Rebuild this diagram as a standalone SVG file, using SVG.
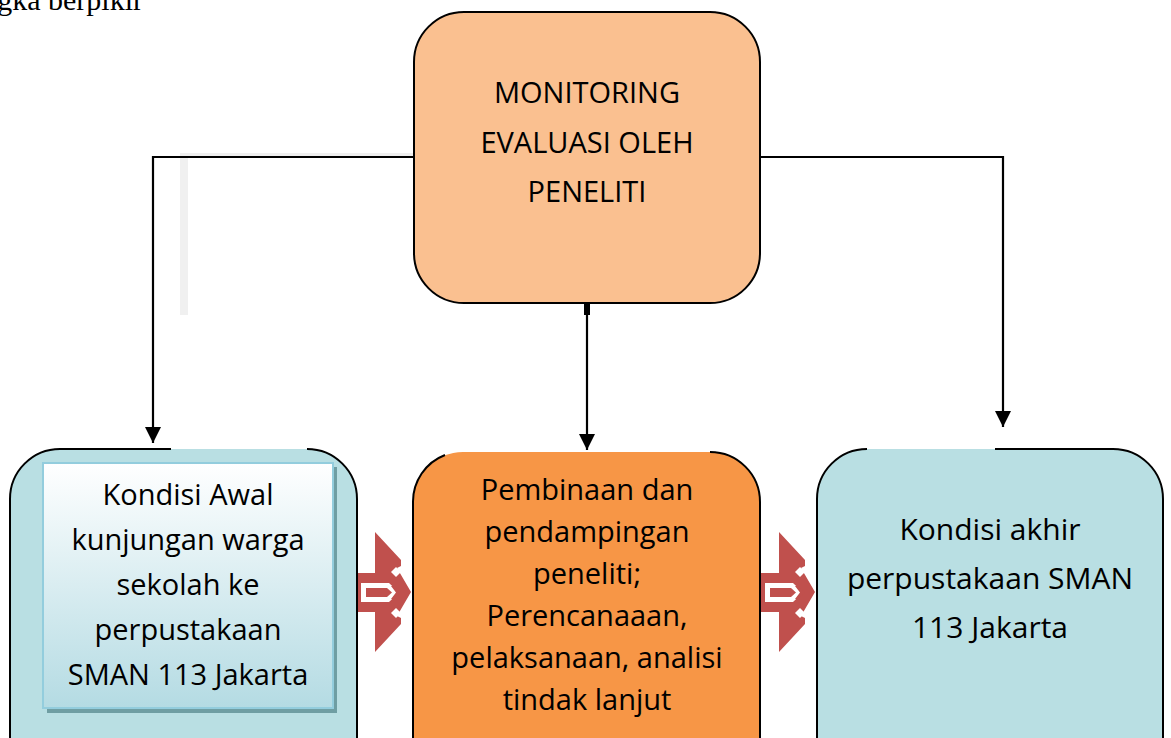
<svg xmlns="http://www.w3.org/2000/svg" width="1171" height="738" viewBox="0 0 1171 738">
<defs>
<style>
.lbl{font-family:"Open Sans","Noto Sans",sans-serif;font-size:29px;fill:#000;text-anchor:middle}
.out{fill:none;stroke:#000;stroke-width:2}
.conn{fill:none;stroke:#000;stroke-width:2.2}
</style>
<marker id="ah" markerUnits="userSpaceOnUse" markerWidth="16" markerHeight="16" refX="16" refY="8" orient="auto" viewBox="0 0 16 16">
<path d="M0,0 L16,8 L0,16 z" fill="#000"/>
</marker>
<linearGradient id="inner" x1="0" y1="0" x2="0" y2="1">
<stop offset="0" stop-color="#ffffff"/>
<stop offset="1" stop-color="#b4dbe3"/>
</linearGradient>
<g id="blockArrow">
<polygon points="375,532 401,560 401,566 397,568 411,592 397,616 401,618 401,624 375,652" fill="#c0504d"/>
<rect x="352" y="573" width="31" height="39" fill="#c0504d"/>
<rect x="361" y="583" width="22" height="19" fill="#fff"/>
<polygon points="383,583 389,583 399,592.5 389,602 383,602" fill="#fff"/>
<polygon points="366,588 387,588 392,592.5 387,597 366,597" fill="#c0504d"/>
<polygon points="391,586 395,586 401,592.5 395,599 391,599 396,592.5" fill="#c0504d"/>
<polygon points="396,567 401,572 396,577 391,572" fill="#fff"/>
<polygon points="396,608 401,613 396,618 391,613" fill="#fff"/>
</g>
</defs>
<rect width="1171" height="738" fill="#fff"/>
<text x="143" y="10" font-family="Liberation Serif, serif" font-size="30" text-anchor="end">gka berpikir</text>
<g id="artifact">
<rect x="180" y="153" width="234" height="5" fill="#efefef"/>
<rect x="180" y="158" width="8" height="157" fill="#f0f0f0"/>
</g>
<g id="connectors">
<path class="conn" d="M414,157 H153 V443" marker-end="url(#ah)"/>
<path class="conn" d="M760,157 H1003 V427" marker-end="url(#ah)"/>
<rect x="584" y="303" width="6" height="12" fill="#000"/>
<path class="conn" d="M587,315 V450" marker-end="url(#ah)"/>
<use href="#blockArrow"/>
<use href="#blockArrow" transform="translate(404,0)"/>
</g>
<g id="node-monitoring">
<rect x="414" y="12" width="346" height="291" rx="50" ry="50" fill="#fac090" stroke="#000" stroke-width="2"/>
<text class="lbl" x="587" y="103">MONITORING</text>
<text class="lbl" x="587" y="153">EVALUASI OLEH</text>
<text class="lbl" x="587" y="202">PENELITI</text>
</g>
<g id="node-awal">
<rect x="10" y="449" width="347" height="340" rx="50" ry="50" fill="#b9dfe3"/>
<path class="out" d="M307,449 A50,50 0 0 1 357,499 V790 M10,790 V499 A50,50 0 0 1 60,449 H171"/>
<rect x="47" y="467" width="290" height="246" fill="#6f9ea3"/>
<rect x="43" y="463" width="290" height="245" fill="url(#inner)" stroke="#93cddd" stroke-width="2"/>
<text class="lbl" x="188" y="505">Kondisi Awal</text>
<text class="lbl" x="188" y="550">kunjungan warga</text>
<text class="lbl" x="188" y="595">sekolah ke</text>
<text class="lbl" x="188" y="640">perpustakaan</text>
<text class="lbl" x="188" y="685">SMAN 113 Jakarta</text>
</g>
<g id="node-pembinaan">
<rect x="413" y="452" width="347" height="340" rx="50" ry="50" fill="#f79646"/>
<path class="out" d="M710,452 A50,50 0 0 1 760,502 V790 M413,790 V502 A50,50 0 0 1 445,455"/>
<text class="lbl" x="587" y="500">Pembinaan dan</text>
<text class="lbl" x="587" y="542">pendampingan</text>
<text class="lbl" x="587" y="584">peneliti;</text>
<text class="lbl" x="587" y="626">Perencanaaan,</text>
<text class="lbl" x="587" y="668">pelaksanaan, analisi</text>
<text class="lbl" x="587" y="710">tindak lanjut</text>
</g>
<g id="node-akhir">
<rect x="817" y="449" width="346" height="340" rx="50" ry="50" fill="#b9dfe3"/>
<path class="out" d="M995,449 H1113 A50,50 0 0 1 1163,499 V790 M817,790 V499 A50,50 0 0 1 867,449"/>
<text class="lbl" x="990" y="540" style="font-size:30px">Kondisi akhir</text>
<text class="lbl" x="990" y="589" style="font-size:30px">perpustakaan SMAN</text>
<text class="lbl" x="990" y="638" style="font-size:30px">113 Jakarta</text>
</g>
</svg>
